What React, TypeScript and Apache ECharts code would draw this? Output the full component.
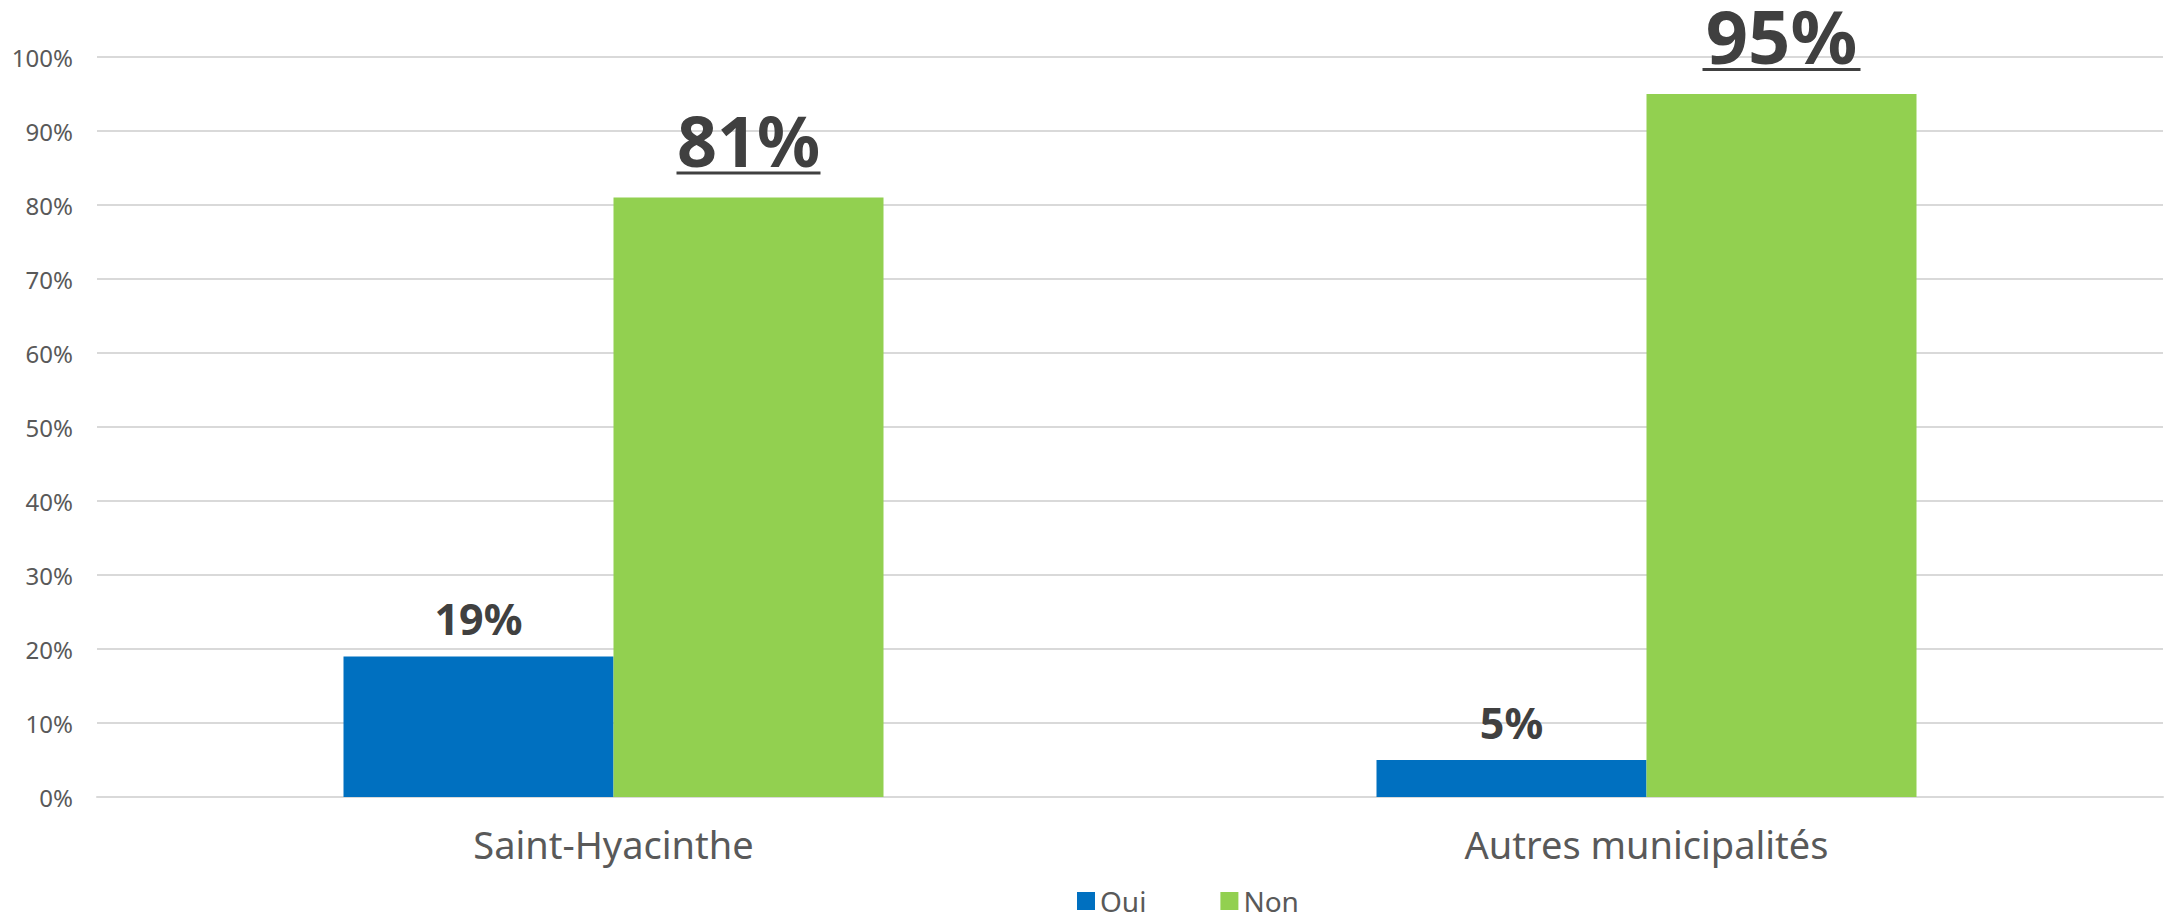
import React, { useEffect, useRef } from "react";
import * as echarts from "echarts";

const categories = ["Saint-Hyacinthe", "Autres municipalités"];
const seriesNames = ["Oui", "Non"];
const ouiValues = [19, 5];
const nonValues = [81, 95];
const yTicks = { min: 0, max: 100, interval: 10 };

const BLUE = "#0070C0";
const GREEN = "#92D050";
const DARK = "#404040";
const GREY = "#595959";
const FONT = "'Noto Sans', 'DejaVu Sans', sans-serif";

export default function App() {
  const ref = useRef<HTMLDivElement>(null);
  useEffect(() => {
    if (!ref.current) return;
    const chart = echarts.init(ref.current, undefined, { renderer: "svg" });
    const ouiData = ouiValues.map((v) => ({
      value: v,
      label: {
        show: true,
        position: "top",
        distance: 16,
        formatter: "{c}%",
        fontSize: 43,
        fontWeight: "bold",
        color: DARK,
        fontFamily: FONT,
      },
    }));
    const bigSizes = [70, 74];
    const underlineW = [144, 158];
    const nonData = nonValues.map((v, i) => ({
      value: v,
      label: {
        show: true,
        position: "top",
        distance: 23,
        formatter: "{t|{c}%}\n{s|}\n{u|}",
        rich: {
          t: {
            fontSize: bigSizes[i],
            fontWeight: "bold",
            color: DARK,
            fontFamily: FONT,
            lineHeight: Math.round(bigSizes[i] * 0.76),
            align: "center",
          },
          s: {
            width: 1,
            height: 5,
            lineHeight: 5,
            align: "center",
          },
          u: {
            width: underlineW[i],
            height: 3,
            lineHeight: 3,
            backgroundColor: DARK,
            align: "center",
          },
        },
      },
    }));
    chart.setOption({
      animation: false,
      textStyle: { fontFamily: FONT },
      grid: { left: 97, right: 1, top: 57, bottom: 123, containLabel: false },
      legend: {
        data: seriesNames,
        left: 1077,
        top: 887,
        padding: 0,
        itemWidth: 18,
        itemHeight: 18,
        itemGap: 74,
        icon: "rect",
        textStyle: { fontSize: 28, lineHeight: 28, color: GREY, fontFamily: FONT },
      },
      xAxis: {
        type: "category",
        data: categories,
        axisLine: { show: true, lineStyle: { color: "#d9d9d9", width: 2 } },
        axisTick: { show: false },
        axisLabel: { fontSize: 38, color: GREY, margin: 28, fontFamily: FONT },
      },
      yAxis: {
        type: "value",
        min: yTicks.min,
        max: yTicks.max,
        interval: yTicks.interval,
        axisLine: { show: false },
        axisTick: { show: false },
        splitLine: { lineStyle: { color: "#d9d9d9", width: 2 } },
        axisLabel: { formatter: "{value}%", fontSize: 24, color: GREY, margin: 24, fontFamily: FONT },
      },
      series: [
        {
          name: seriesNames[0],
          type: "bar",
          data: ouiData,
          barWidth: 270,
          barGap: "0%",
          itemStyle: { color: BLUE },
        },
        {
          name: seriesNames[1],
          type: "bar",
          data: nonData,
          barWidth: 270,
          barGap: "0%",
          itemStyle: { color: GREEN },
        },
      ],
    });
    return () => chart.dispose();
  }, []);
  return (
    <div
      ref={ref}
      style={{ position: "fixed", left: 0, top: 0, width: 2164, height: 920, background: "#fff" }}
    />
  );
}
